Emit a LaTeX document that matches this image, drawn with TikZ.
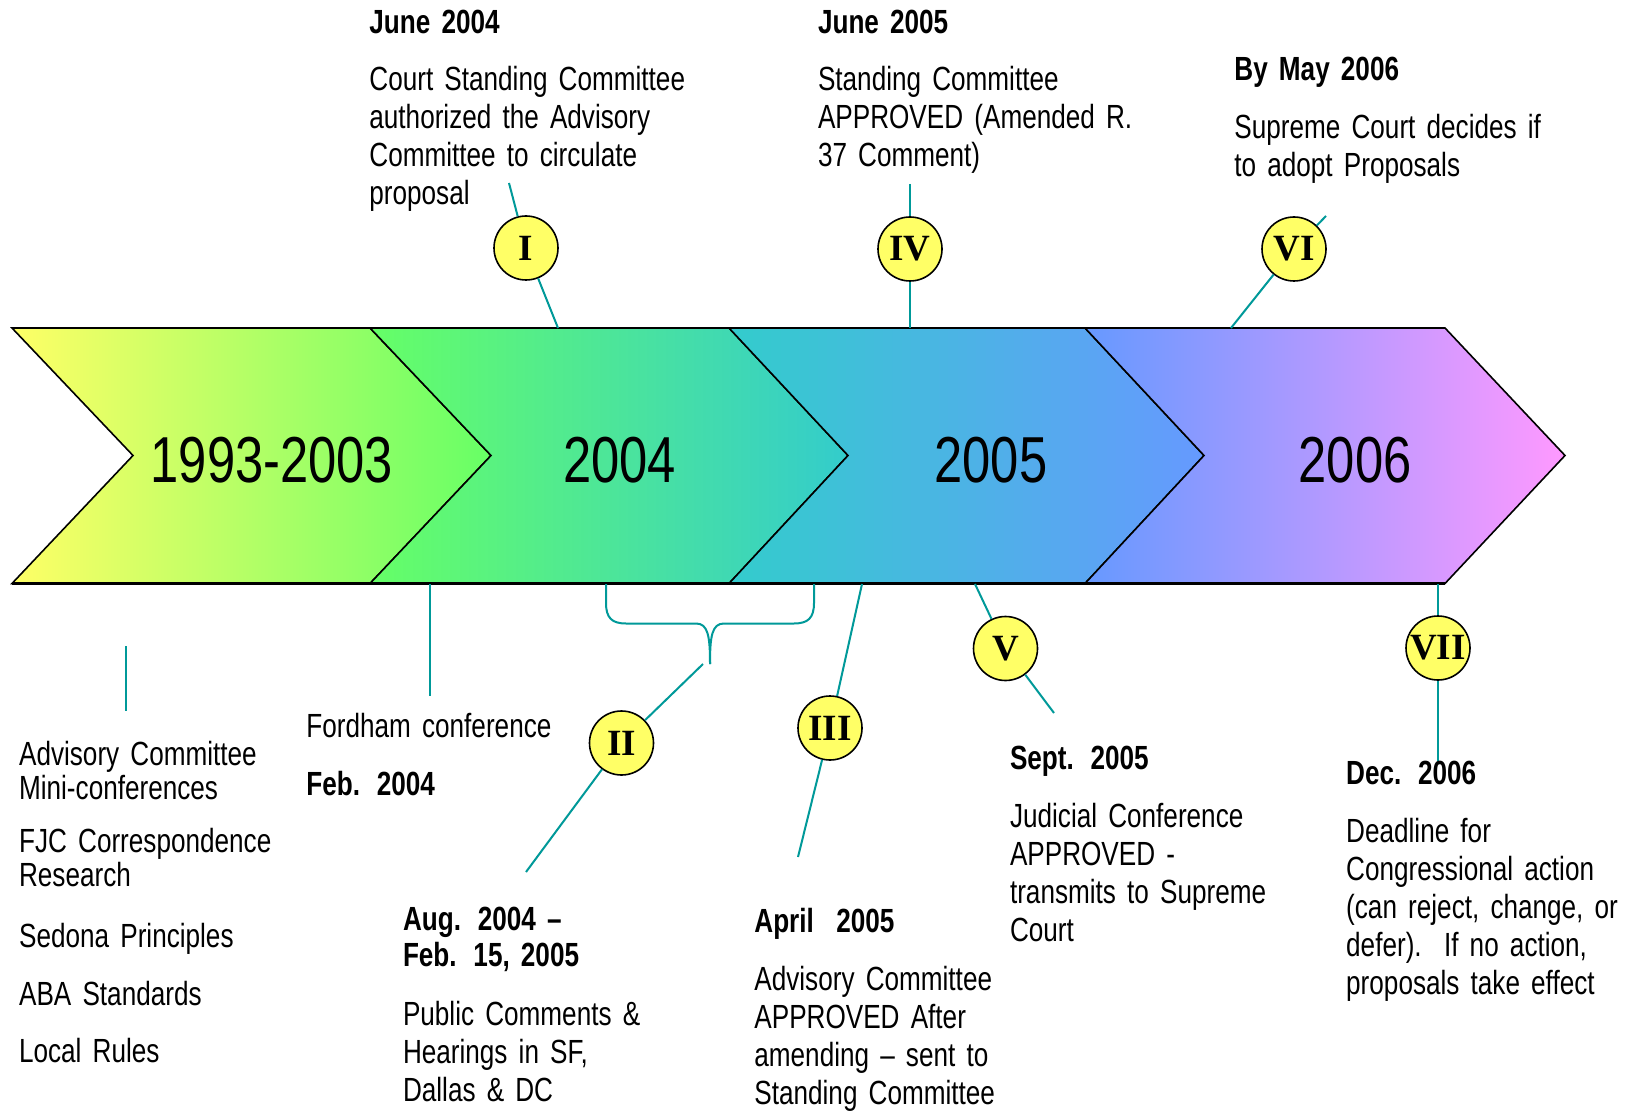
\documentclass[tikz,border=0pt]{standalone}
\usepackage{fontspec}
\setmainfont{Liberation Sans}[FakeStretch=0.78]
\newfontfamily\numfont{Liberation Serif}
\newcommand\tightsp{\spaceskip=0.2em plus 0.05em minus 0.03em\relax}
\definecolor{yelA}{HTML}{FFFF66}
\definecolor{grnA}{HTML}{66FF66}
\definecolor{tealA}{HTML}{33CCCC}
\definecolor{bluA}{HTML}{6699FF}
\definecolor{pnkA}{HTML}{FF99FF}
\definecolor{tealc}{HTML}{009999}
\definecolor{circfill}{HTML}{FFFF66}
\begin{document}
\begin{tikzpicture}[x=0.5pt,y=-0.5pt,
  txt/.style={anchor=base west, inner sep=0pt, text width=200pt, align=left,
    font=\fontsize{16.75pt}{19pt}\selectfont\tightsp},
  head/.style={txt, font=\fontsize{16.75pt}{18pt}\selectfont\bfseries\tightsp},
  listtxt/.style={txt, font=\fontsize{16.75pt}{17pt}\selectfont\tightsp},
  yearlbl/.style={anchor=base, inner sep=0pt, font=\fontsize{32.5pt}{36pt}\selectfont},
  rnum/.style={circle, draw=black, line width=0.8pt, fill=circfill, minimum size=32pt,
    inner sep=0pt, font=\numfont\bfseries\fontsize{18.5pt}{20pt}\selectfont},
  conn/.style={draw=tealc, line width=1pt},
  chev/.style={draw=black, line width=0.8pt, line join=miter}]
\useasboundingbox (0,0) rectangle (1627,1112);
\fill[white] (0,0) rectangle (1627,1112);

% chevrons
\path[chev, left color=yelA, right color=grnA]
  (12,328) -- (370,328) -- (491,455.5) -- (370,583.5) -- (12,583.5) -- (133,455.5) -- cycle;
\path[chev, left color=grnA, right color=tealA]
  (370,328) -- (729,328) -- (848,455.5) -- (729,583.5) -- (370,583.5) -- (491,455.5) -- cycle;
\path[chev, left color=tealA, right color=bluA]
  (729,328) -- (1085,328) -- (1204,455.5) -- (1085,583.5) -- (729,583.5) -- (848,455.5) -- cycle;
\path[chev, left color=bluA, right color=pnkA]
  (1085,328) -- (1445,328) -- (1565,455.5) -- (1445,583.5) -- (1085,583.5) -- (1204,455.5) -- cycle;
\draw[line width=1.4pt] (12,328) -- (1445,328);
\draw[line width=1.4pt] (12,583.5) -- (1445,583.5);

\node[yearlbl] (y1) at (272,482) {1993-2003};
\node[yearlbl] (y2) at (619.5,482) {2004};
\node[yearlbl] (y3) at (991,482) {2005};
\node[yearlbl] (y4) at (1355,482) {2006};

% circles
\node[rnum] (c1) at (526,248) {I};
\node[rnum] (c2) at (621.5,743) {II};
\node[rnum] (c3) at (830,728) {III};
\node[rnum] (c4) at (910,249) {IV};
\node[rnum] (c5) at (1005.5,648.5) {V};
\node[rnum] (c6) at (1294,249) {VI};
\node[rnum] (c7) at (1438,648) {VII};

% connector end points
\coordinate (c1t) at (509,183);  \coordinate (c1b) at (558,328);
\coordinate (c2t) at (703,664);  \coordinate (c2b) at (526,872);
\coordinate (c3t) at (862,584);  \coordinate (c3b) at (798,857);
\coordinate (c4t) at (910,184);  \coordinate (c4b) at (910,328);
\coordinate (c5t) at (975,584);  \coordinate (c5b) at (1054,713);
\coordinate (c6t) at (1326,216); \coordinate (c6b) at (1231,328);
\coordinate (c7t) at (1438,584); \coordinate (c7b) at (1438,761);
\coordinate (l0t) at (125.5,646); \coordinate (l0b) at (125.5,711);
\coordinate (lft) at (429.5,584); \coordinate (lfb) at (429.5,696);
\coordinate (brL) at (606,584);  \coordinate (brR) at (814,584);
\coordinate (brT) at (710,664);

\draw[conn] (c1t) -- (c1) -- (c1b);
\draw[conn] (c2t) -- (c2) -- (c2b);
\draw[conn] (c3t) -- (c3) -- (c3b);
\draw[conn] (c4t) -- (c4) -- (c4b);
\draw[conn] (c5t) -- (c5) -- (c5b);
\draw[conn] (c6t) -- (c6) -- (c6b);
\draw[conn] (c7t) -- (c7) -- (c7b);
\draw[conn] (l0t) -- (l0b);
\draw[conn] (lft) -- (lfb);
% brace
\draw[conn] (brL) -- (606,603) .. controls (606,618) and (612,623.5) .. (626,623.5)
  -- (696,623.5) .. controls (708,623.5) and (710,636) .. (brT);
\draw[conn] (brR) -- (814,603) .. controls (814,618) and (808,623.5) .. (794,623.5)
  -- (724,623.5) .. controls (712,623.5) and (710,636) .. (brT);

% top texts
\node[head] (h1) at (369,34) {June 2004};
\node[txt] (t1) at (369,91) {Court Standing Committee\\authorized the Advisory\\Committee to circulate\\proposal};
\node[head] (h4) at (817.6,34) {June 2005};
\node[txt] (t4) at (817.6,91) {Standing Committee\\APPROVED (Amended R.\\37 Comment)};
\node[head] (h6) at (1234,81) {By May 2006};
\node[txt] (t6) at (1234,139) {Supreme Court decides if\\to adopt Proposals};

% bottom left list
\node[listtxt] (a1) at (18.7,765) {Advisory Committee\\Mini-conferences};
\node[listtxt] (a2) at (18.7,852) {FJC Correspondence\\Research};
\node[listtxt] (a3) at (18.7,947) {Sedona Principles};
\node[listtxt] (a4) at (18.7,1005) {ABA Standards};
\node[listtxt] (a5) at (18.7,1062) {Local Rules};

\node[txt] (f1) at (306,737) {Fordham conference};
\node[head] (f2) at (306,795) {Feb. 2004};

\node[head] (h2) at (402.6,930) {Aug. 2004 –\\Feb. 15, 2005};
\node[txt] (t2) at (402.6,1025) {Public Comments \&\\Hearings in SF,\\Dallas \& DC};

\node[head] (h3) at (754,932) {April~~2005};
\node[txt] (t3) at (754,990) {Advisory Committee\\APPROVED After\\amending – sent to\\Standing Committee};

\node[head] (h5) at (1009.6,769) {Sept. 2005};
\node[txt] (t5) at (1009.6,827) {Judicial Conference\\APPROVED -\\transmits to Supreme\\Court};

\node[head] (h7) at (1345.8,784.5) {Dec. 2006};
\node[txt] (t7) at (1345.8,842.5) {Deadline for\\Congressional action\\(can reject, change, or\\defer).~~If no action,\\proposals take effect};
\end{tikzpicture}
\end{document}
